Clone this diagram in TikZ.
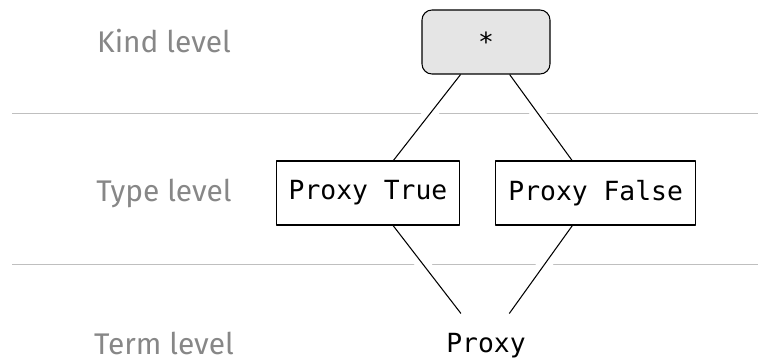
\documentclass[tikz,border=0pt]{standalone}
\usepackage{fontspec}
\setmainfont{Fira Sans}
\setmonofont{DejaVu Sans Mono}
\usetikzlibrary{positioning}

\begin{document}
\begin{tikzpicture}[line join=round, semithick,
    level/.style={text=black!47, font=\fontsize{17}{20}\selectfont, anchor=base, inner sep=0pt},
    sep/.style={black!25, thin},
    tybox/.style={draw, fill=white, font=\ttfamily\fontsize{15}{18}\selectfont,
      minimum height=1.28cm, inner xsep=0.25cm},
    link/.style={preaction={draw=white, line width=8pt, shorten <=8pt, shorten >=8pt}}]
  \useasboundingbox (0,0) rectangle (15.16,-7.16);
  % level separators
  \foreach \y in {-2.26,-5.28}
    \draw[sep] (0.24,\y) -- (15.16,\y);
  % level names
  \node[level] (kind) at (3.28,-1.06) {Kind level};
  \node[level] (type) at (3.28,-4.02) {Type level};
  \node[level] (term) at (3.28,-7.08) {Term level};
  % kinds, types and terms
  \node[tybox, rounded corners=0.2cm, fill=black!10, minimum width=2.56cm] (star) at (9.72,-0.84) {*};
  \node[tybox] (ptrue) at (7.36,-3.86) {Proxy True};
  \node[tybox, right=0.7cm of ptrue] (pfalse) {Proxy False};
  \node[tybox, draw=none, fill=none] (proxy) at (9.72,-6.92) {Proxy};
  \foreach \a/\b in {star/ptrue, star/pfalse, ptrue/proxy, pfalse/proxy}
    \draw[link] (\a) -- (\b);
\end{tikzpicture}
\end{document}
